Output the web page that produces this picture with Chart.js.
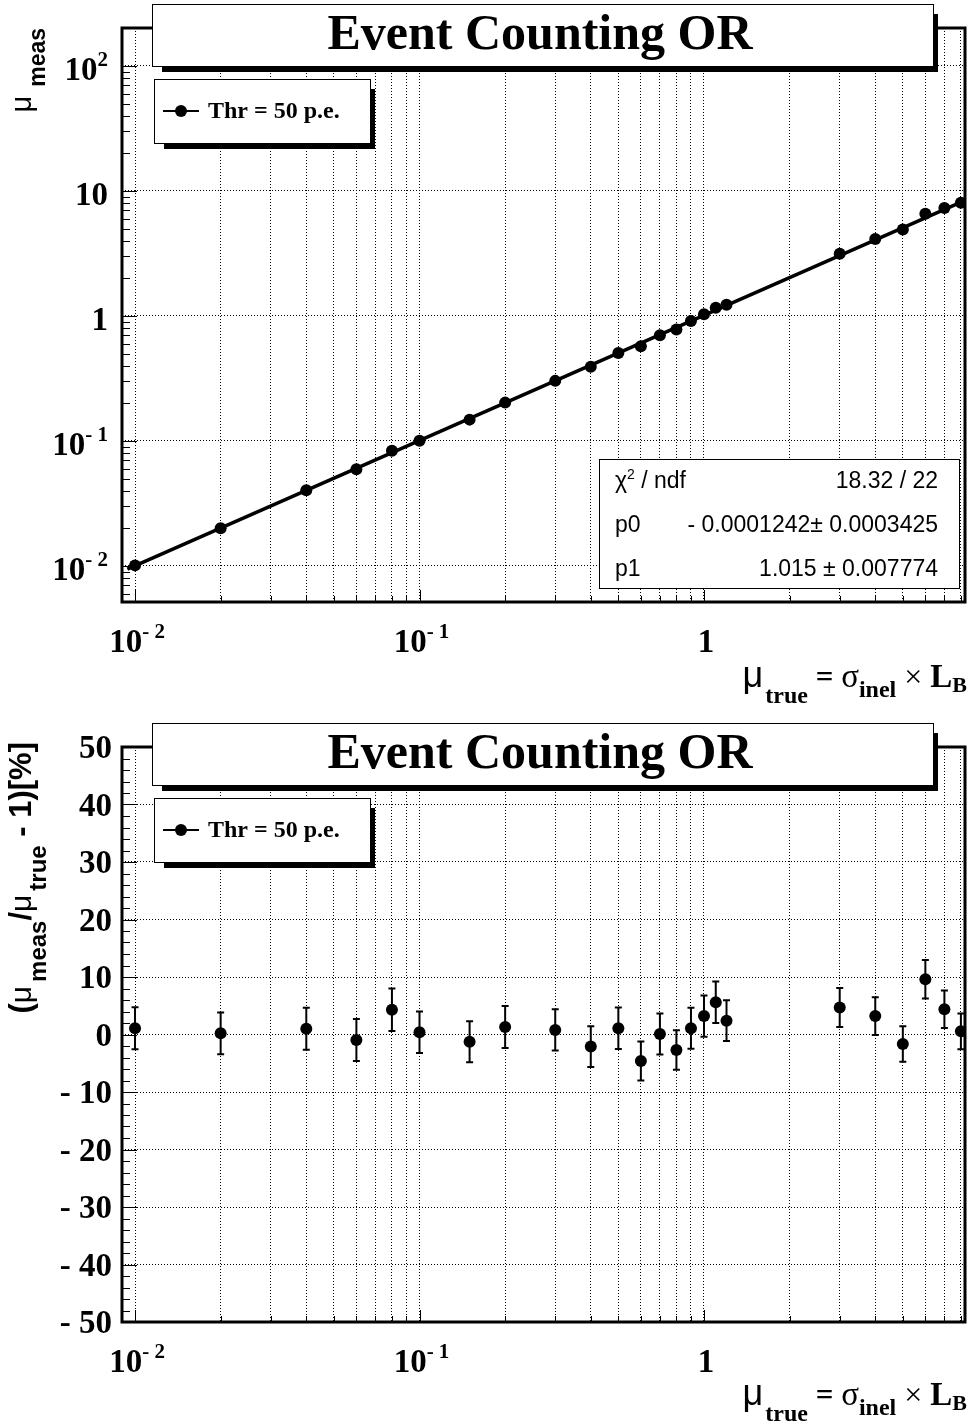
<!DOCTYPE html>
<html>
<head>
<meta charset="utf-8">
<script src="https://cdn.jsdelivr.net/npm/chart.js@4.4.0/dist/chart.umd.min.js"></script>
<style>
  html, body { margin: 0; padding: 0; background: #fff; }
  #wrap { position: relative; width: 971px; height: 1424px; }
  canvas { position: absolute; left: 0; }
</style>
</head>
<body>
<div id="wrap">
  <canvas id="top" width="971" height="712" style="top:0"></canvas>
  <canvas id="bottom" width="971" height="712" style="top:712px"></canvas>
</div>
<script>
// values
const muTrue = [0.01, 0.02, 0.04, 0.06, 0.08, 0.1, 0.15, 0.2, 0.3, 0.4, 0.5, 0.6, 0.7, 0.8, 0.9, 1.0, 1.1, 1.2, 3, 4, 5, 6, 7, 8];
const muMeas = [0.01011, 0.02004, 0.0404, 0.05943, 0.08344, 0.1004, 0.1481, 0.2026, 0.3024, 0.3916, 0.5055, 0.5724,
                0.7007, 0.7784, 0.9099, 1.032, 1.1616, 1.2288, 3.141, 4.128, 4.918, 6.576, 7.308, 8.044];
const ratioPct = [1.1, 0.2, 1.0, -0.95, 4.3, 0.4, -1.25, 1.3, 0.8, -2.1, 1.1, -4.6, 0.1, -2.7, 1.1, 3.2, 5.6, 2.4, 4.7, 3.2, -1.65, 9.6, 4.4, 0.55];
const ratioErr = [3.65, 3.62, 3.65, 3.65, 3.68, 3.6, 3.57, 3.65, 3.6, 3.54, 3.6, 3.4, 3.57, 3.45, 3.57, 3.6, 3.62, 3.54, 3.4, 3.28, 3.1, 3.36, 3.25, 3.1];

// fit line end points (pol1 fit)
const fitX = [0.0094, 8.2];
const fitY = [0.00942, 8.32];

// axis ticks / labels
const xGrid = [0.01, 0.02, 0.03, 0.04, 0.05, 0.06, 0.07, 0.08, 0.09, 0.1, 0.2, 0.3, 0.4, 0.5, 0.6, 0.7, 0.8, 0.9, 1, 2, 3, 4, 5, 6, 7, 8];
const xMajor = [0.01, 0.1, 1];
const xLabelBase = ['10', '10', '1'];
const xLabelExp = ['- 2', '- 1', ''];
const yTopMajor = [0.01, 0.1, 1, 10, 100];
const yTopLabelBase = ['10', '10', '1', '10', '10'];
const yTopLabelExp = ['- 2', '- 1', '', '', '2'];
const yBotMajor = [-50, -40, -30, -20, -10, 0, 10, 20, 30, 40, 50];
const yBotLabels = ['- 50', '- 40', '- 30', '- 20', '- 10', '0', '10', '20', '30', '40', '50'];

const statsRows = [['χ', '2', ' / ndf', '18.32 / 22'], ['p0', '', '', '- 0.0001242± 0.0003425'], ['p1', '', '', '1.015 ± 0.007774']];

const SERIF = '"Liberation Serif", "Times New Roman", serif';
const SANS = '"Liberation Sans", Arial, sans-serif';

const yTopMinor = [];
for (const d of [0.001, 0.01, 0.1, 1, 10]) for (let k = 2; k <= 9; k++) if (d * k > 0.0052 && d * k < 150) yTopMinor.push(d * k);
const yBotMinor = [];
for (let v = -48; v <= 48; v += 2) yBotMinor.push(v);

function drawRich(ctx, parts, x, y, align, angle) {
  ctx.save();
  ctx.translate(x, y);
  if (angle) ctx.rotate(angle);
  let w = 0;
  for (const p of parts) { ctx.font = p.font; p.w = ctx.measureText(p.t).width + (p.gap || 0); w += p.w; }
  let cx = align === 'right' ? -w : align === 'center' ? -w / 2 : 0;
  ctx.textAlign = 'left';
  ctx.textBaseline = 'alphabetic';
  ctx.fillStyle = '#000';
  for (const p of parts) { ctx.font = p.font; ctx.fillText(p.t, cx, p.dy || 0); cx += p.w; }
  ctx.restore();
}

function powParts(base, exp) {
  const parts = [{t: base, font: 'bold 33px ' + SERIF}];
  if (exp) parts.push({t: exp, font: 'bold 21px ' + SERIF, dy: -14});
  return parts;
}

function drawBox(ctx, l, t, r, b, shadow) {
  if (shadow) {
    ctx.fillStyle = '#000';
    ctx.fillRect(l + 10, t + 10, r - l - 5, b - t - 4);
  }
  ctx.fillStyle = '#fff';
  ctx.fillRect(l, t, r - l, b - t);
  ctx.strokeStyle = '#000';
  ctx.lineWidth = 1;
  ctx.strokeRect(l + 0.5, t + 0.5, r - l, b - t);
}

const panelPlugin = cfg => ({
  id: 'panel',
  beforeDatasetsDraw(chart) {
    if (!cfg.errors) return;
    const {ctx, scales: {x, y}} = chart;
    ctx.save();
    ctx.strokeStyle = '#000';
    ctx.lineWidth = 2;
    ctx.beginPath();
    muTrue.forEach((v, i) => {
      const px = x.getPixelForValue(v);
      const y1 = y.getPixelForValue(ratioPct[i] - ratioErr[i]);
      const y2 = y.getPixelForValue(ratioPct[i] + ratioErr[i]);
      ctx.moveTo(px, y1); ctx.lineTo(px, y2);
      ctx.moveTo(px - 3.5, y1); ctx.lineTo(px + 3.5, y1);
      ctx.moveTo(px - 3.5, y2); ctx.lineTo(px + 3.5, y2);
    });
    ctx.stroke();
    ctx.restore();
  },
  afterDatasetsDraw(chart) {
    const {ctx, chartArea: a, scales: {x, y}} = chart;
    ctx.save();
    // inner ticks
    ctx.strokeStyle = '#000';
    ctx.lineWidth = 1;
    ctx.beginPath();
    for (const v of xGrid) {
      const px = Math.round(x.getPixelForValue(v)) + 0.5;
      const len = xMajor.includes(v) ? 12 : 6;
      ctx.moveTo(px, a.bottom); ctx.lineTo(px, a.bottom - len);
    }
    for (const v of cfg.yMinor) {
      const py = Math.round(y.getPixelForValue(v)) + 0.5;
      ctx.moveTo(a.left, py); ctx.lineTo(a.left + 8, py);
    }
    for (const v of cfg.yMajor) {
      const py = Math.round(y.getPixelForValue(v)) + 0.5;
      ctx.moveTo(a.left, py); ctx.lineTo(a.left + 15, py);
    }
    ctx.stroke();
    // frame
    ctx.lineWidth = 3;
    ctx.strokeRect(a.left, a.top, a.right - a.left, a.bottom - a.top);

    // tick labels
    xMajor.forEach((v, i) => drawRich(ctx, powParts(xLabelBase[i], xLabelExp[i]), x.getPixelForValue(v) + 2, cfg.xLabelY, 'center'));
    if (cfg.log) {
      yTopMajor.forEach((v, i) => drawRich(ctx, powParts(yTopLabelBase[i], yTopLabelExp[i]), 108, y.getPixelForValue(v) + 14, 'right'));
    } else {
      yBotMajor.forEach((v, i) => drawRich(ctx, [{t: yBotLabels[i], font: 'bold 33px ' + SERIF}], 112, y.getPixelForValue(v) + 11, 'right'));
    }

    // axis titles
    drawRich(ctx, [
      {t: 'μ', font: '36px ' + SANS, gap: 2},
      {t: 'true', font: 'bold 24px ' + SERIF, dy: 16},
      {t: ' = ', font: 'bold 31px ' + SERIF},
      {t: 'σ', font: '33px ' + SERIF},
      {t: 'inel', font: 'bold 24px ' + SERIF, dy: 10},
      {t: ' × ', font: '32px ' + SERIF},
      {t: 'L', font: 'bold 33px ' + SERIF},
      {t: 'B', font: 'bold 22px ' + SERIF, dy: 5}
    ], 967, cfg.xTitleY, 'right');
    drawRich(ctx, cfg.yTitle, 31, cfg.yTitleEnd, 'right', -Math.PI / 2);

    // title box
    const o = cfg.off;
    drawBox(ctx, 152, 4 + o, 933, 66 + o, true);
    ctx.fillStyle = '#000';
    ctx.font = 'bold 50px ' + SERIF;
    ctx.textAlign = 'center';
    ctx.textBaseline = 'alphabetic';
    ctx.fillText('Event Counting OR', 540, 49 + o);

    // legend
    drawBox(ctx, 154, 79 + o, 370, 143 + o, true);
    ctx.strokeStyle = '#000';
    ctx.lineWidth = 2;
    ctx.beginPath(); ctx.moveTo(163, 111 + o); ctx.lineTo(199, 111 + o); ctx.stroke();
    ctx.beginPath(); ctx.arc(181, 111 + o, 6, 0, Math.PI * 2); ctx.fillStyle = '#000'; ctx.fill();
    ctx.font = 'bold 24px ' + SERIF;
    ctx.textAlign = 'left';
    ctx.fillText('Thr = 50 p.e.', 208, 118 + o);

    // fit statistics
    if (cfg.stats) {
      drawBox(ctx, 599, 459, 959, 588, false);
      const rowY = [488, 532, 576];
      statsRows.forEach((r, i) => {
        drawRich(ctx, [
          {t: r[0], font: '23px ' + SANS},
          {t: r[1], font: '14px ' + SANS, dy: -9},
          {t: r[2], font: '23px ' + SANS}
        ], 615, rowY[i], 'left');
        drawRich(ctx, [{t: r[3], font: '23px ' + SANS}], 938, rowY[i], 'right');
      });
    }
    ctx.restore();
  }
});

const gridOpts = {color: '#000', lineWidth: 1, drawTicks: false};
const borderOpts = {display: false, dash: [1, 2]};
const xAxis = height => ({
  type: 'logarithmic', min: 0.0090, max: 8.27,
  afterBuildTicks: s => { s.ticks = xGrid.map(v => ({value: v})); },
  afterFit: s => { s.height = height; },
  ticks: {display: false}, grid: gridOpts, border: borderOpts
});

const pointStyle = {backgroundColor: '#000', borderColor: '#000', pointRadius: 6, pointBorderWidth: 0, showLine: false};

new Chart(document.getElementById('top'), {
  type: 'scatter',
  data: {
    datasets: [
      {data: muTrue.map((v, i) => ({x: v, y: muMeas[i]})), ...pointStyle},
      {data: fitX.map((v, i) => ({x: v, y: fitY[i]})), showLine: true, borderColor: '#000', borderWidth: 3.5, pointRadius: 0}
    ]
  },
  options: {
    responsive: false, animation: false, events: [],
    layout: {padding: {left: 0, right: 3, top: 28, bottom: 0}},
    plugins: {legend: {display: false}, tooltip: {enabled: false}},
    scales: {
      x: xAxis(110),
      y: {
        type: 'logarithmic', min: 0.00515, max: 201,
        afterBuildTicks: s => { s.ticks = yTopMajor.map(v => ({value: v})); },
        afterFit: s => { s.width = 122; },
        ticks: {display: false}, grid: gridOpts, border: borderOpts
      }
    }
  },
  plugins: [panelPlugin({
    log: true, errors: false, stats: true, off: 0,
    yMajor: yTopMajor, yMinor: yTopMinor,
    xLabelY: 652, xTitleY: 687, yTitleEnd: 28,
    yTitle: [
      {t: 'μ', font: '29px ' + SANS, gap: 9},
      {t: 'meas', font: 'bold 23px ' + SANS, dy: 14}
    ]
  })]
});

new Chart(document.getElementById('bottom'), {
  type: 'scatter',
  data: {
    datasets: [
      {data: muTrue.map((v, i) => ({x: v, y: ratioPct[i]})), ...pointStyle}
    ]
  },
  options: {
    responsive: false, animation: false, events: [],
    layout: {padding: {left: 0, right: 3, top: 35, bottom: 0}},
    plugins: {legend: {display: false}, tooltip: {enabled: false}},
    scales: {
      x: xAxis(102),
      y: {
        type: 'linear', min: -50, max: 50,
        afterBuildTicks: s => { s.ticks = yBotMajor.map(v => ({value: v})); },
        afterFit: s => { s.width = 122; },
        ticks: {display: false}, grid: gridOpts, border: borderOpts
      }
    }
  },
  plugins: [panelPlugin({
    log: false, errors: true, stats: false, off: 7,
    yMajor: yBotMajor, yMinor: yBotMinor,
    xLabelY: 660, xTitleY: 693, yTitleEnd: 30,
    yTitle: [
      {t: '(', font: 'bold 31px ' + SANS},
      {t: 'μ', font: '30px ' + SANS, gap: 4},
      {t: 'meas', font: 'bold 24px ' + SANS, dy: 15},
      {t: '/', font: 'bold 31px ' + SANS},
      {t: 'μ', font: '30px ' + SANS, gap: 4},
      {t: 'true', font: 'bold 24px ' + SANS, dy: 15},
      {t: ' - 1)[%]', font: 'bold 31px ' + SANS}
    ]
  })]
});
</script>
</body>
</html>
